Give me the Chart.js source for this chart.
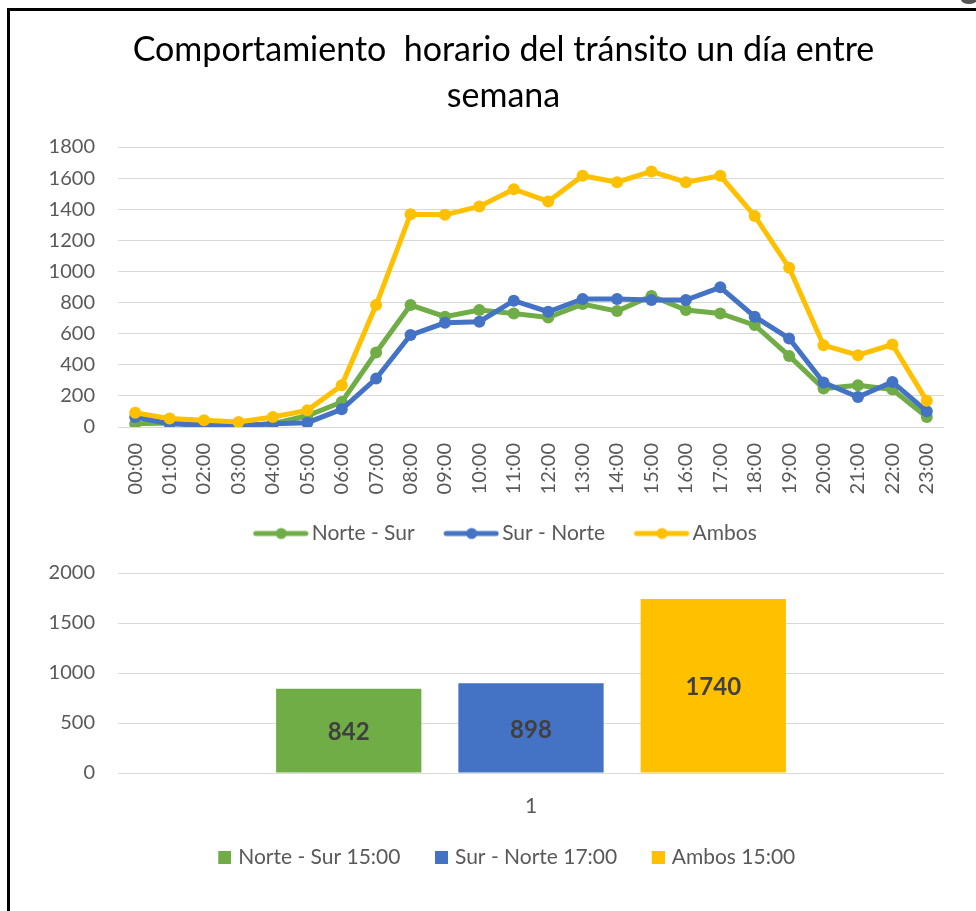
<!DOCTYPE html>
<html>
<head>
<meta charset="utf-8">
<script src="https://cdn.jsdelivr.net/npm/chart.js@4"></script>
<style>
    html, body { margin: 0; padding: 0; background: #fff; }
    body { width: 976px; height: 911px; position: relative; overflow: hidden; }
    #frame {
        position: absolute; left: 7px; top: 8px; right: -20px; bottom: -20px;
        border-left: 3px solid #000; border-top: 3px solid #000;
    }
    #handle {
        position: absolute; left: 961px; top: -5px; width: 16px; height: 9px;
        border-radius: 50%; background: #555;
    }
    #line-chart { position: absolute; left: 0; top: 0; }
    #peak-chart { position: absolute; left: 0; top: 560px; }
</style>
</head>
<body>
<div id="frame"></div>
<div id="handle"></div>
<canvas id="line-chart" width="976" height="560"></canvas>
<canvas id="peak-chart" width="976" height="351"></canvas>
<script>
// start: data
const hours = [
    '00:00', '01:00', '02:00', '03:00', '04:00', '05:00', '06:00', '07:00',
    '08:00', '09:00', '10:00', '11:00', '12:00', '13:00', '14:00', '15:00',
    '16:00', '17:00', '18:00', '19:00', '20:00', '21:00', '22:00', '23:00',
];
const norteSur = [21, 25, 15, 10, 21, 72, 161, 479, 784, 709, 752, 730, 704, 790, 745, 842, 752, 730, 655, 457, 247, 268, 241, 64];
const surNorte = [64, 21, 11, 6, 21, 28, 114, 311, 591, 670, 677, 812, 741, 823, 823, 816, 816, 898, 709, 569, 286, 193, 290, 101];
const ambos = [92, 54, 43, 32, 64, 107, 268, 784, 1368, 1364, 1418, 1529, 1450, 1615, 1574, 1643, 1574, 1615, 1357, 1024, 526, 462, 530, 168];
const seriesNames = ['Norte - Sur', 'Sur - Norte', 'Ambos'];

const peakLabels = ['Norte - Sur 15:00', 'Sur - Norte 17:00', 'Ambos 15:00'];
const peakValues = [842, 898, 1740];
// end: data

const green = '#70AD47';
const blue = '#4472C4';
const yellow = '#FFC000';
const gridColor = '#D9D9D9';
const textColor = '#595959';

Chart.defaults.font.family = 'Lato';
Chart.defaults.color = textColor;
Chart.defaults.animation = false;

const plainNumber = (value) => String(value);

// legend marker: line with a dot, drawn at the right of a wider image
function lineMarker(color) {
    const c = document.createElement('canvas');
    c.width = 66;
    c.height = 14;
    const g = c.getContext('2d');
    g.strokeStyle = color;
    g.lineWidth = 5;
    g.lineCap = 'round';
    g.beginPath();
    g.moveTo(13, 7);
    g.lineTo(63, 7);
    g.stroke();
    g.fillStyle = color;
    g.beginPath();
    g.arc(38.5, 7, 5.5, 0, Math.PI * 2);
    g.fill();
    return c;
}

// legend marker: small square, pushed to the right
function squareMarker(color) {
    const c = document.createElement('canvas');
    c.width = 23;
    c.height = 13;
    const g = c.getContext('2d');
    g.fillStyle = color;
    g.fillRect(10, 0, 13, 13);
    return c;
}

// empty axis on the right, only to keep the plot narrower than title/legend
function spacerAxis(width) {
    return {
        position: 'right',
        display: true,
        min: 0,
        max: 1,
        ticks: { display: false },
        grid: { display: false },
        border: { display: false },
        afterFit(scale) { scale.width = width; }
    };
}

function lineSeries(label, data, color, order) {
    return {
        label: label,
        data: data,
        borderColor: color,
        backgroundColor: color,
        borderWidth: 5,
        pointRadius: 6,
        pointBorderWidth: 0,
        pointBackgroundColor: color,
        tension: 0,
        order: order,
    };
}

const lineColors = [green, blue, yellow];

const lineChart = new Chart(document.getElementById('line-chart'), {
    type: 'line',
    data: {
        labels: hours,
        datasets: [
            lineSeries(seriesNames[0], norteSur, green, 3),
            lineSeries(seriesNames[1], surNorte, blue, 2),
            lineSeries(seriesNames[2], ambos, yellow, 1),
        ]
    },
    options: {
        responsive: false,
        layout: { padding: { left: 10, right: -21, top: 0, bottom: 6 } },
        plugins: {
            title: {
                display: true,
                text: ['Comportamiento  horario del tránsito un día entre', 'semana'],
                color: '#000',
                font: { size: 34, weight: 'normal', lineHeight: 1.353 },
                padding: { top: 27, bottom: 28 },
            },
            legend: {
                position: 'bottom',
                labels: {
                    usePointStyle: true,
                    pointStyleWidth: 51,
                    padding: 26,
                    color: textColor,
                    font: { size: 21 },
                    sort: (a, b) => a.datasetIndex - b.datasetIndex,
                    generateLabels(chart) {
                        const items = Chart.defaults.plugins.legend.labels.generateLabels(chart);
                        items.forEach(it => { it.pointStyle = lineMarker(lineColors[it.datasetIndex]); });
                        return items;
                    }
                }
            },
            tooltip: { enabled: false }
        },
        scales: {
            x: {
                offset: true,
                grid: { display: false, drawTicks: false },
                border: { display: false },
                ticks: { minRotation: 90, maxRotation: 90, padding: 16, font: { size: 20 }, color: textColor },
                afterFit(scale) { scale.height = 70; }
            },
            y: {
                min: 0,
                max: 1800,
                ticks: { stepSize: 200, padding: 23, font: { size: 20 }, color: textColor, callback: plainNumber },
                grid: { color: gridColor, lineWidth: 1, drawTicks: false },
                border: { display: false },
                afterFit(scale) { scale.width = 108; }
            },
            spacer: spacerAxis(53)
        }
    }
});

// value labels in the middle of each bar
const barValueLabels = {
    id: 'barValueLabels',
    afterDatasetsDraw(chart) {
        const ctx = chart.ctx;
        ctx.save();
        ctx.font = 'bold 24px Lato';
        ctx.fillStyle = '#404040';
        ctx.textAlign = 'center';
        ctx.textBaseline = 'middle';
        chart.data.datasets.forEach((ds, i) => {
            chart.getDatasetMeta(i).data.forEach((bar, j) => {
                ctx.fillText(ds.data[j], bar.x, (bar.y + bar.base) / 2 + 2);
            });
        });
        ctx.restore();
    }
};

const barColors = [green, blue, yellow];

const peakChart = new Chart(document.getElementById('peak-chart'), {
    type: 'bar',
    data: {
        labels: ['1'],
        datasets: peakLabels.map((label, i) => ({
            label: label,
            data: [peakValues[i]],
            backgroundColor: barColors[i],
            borderWidth: 0,
            categoryPercentage: 0.662,
            barPercentage: 0.797,
        }))
    },
    plugins: [barValueLabels],
    options: {
        responsive: false,
        layout: { padding: { left: 10, right: -21, top: 13, bottom: 33 } },
        plugins: {
            legend: {
                position: 'bottom',
                labels: {
                    usePointStyle: true,
                    pointStyleWidth: 16,
                    padding: 28,
                    color: textColor,
                    font: { size: 21 },
                    generateLabels(chart) {
                        const items = Chart.defaults.plugins.legend.labels.generateLabels(chart);
                        items.forEach(it => { it.pointStyle = squareMarker(barColors[it.datasetIndex]); });
                        return items;
                    }
                }
            },
            tooltip: { enabled: false }
        },
        scales: {
            x: {
                grid: { display: false, drawTicks: false },
                border: { display: false },
                ticks: { padding: 21, font: { size: 21 }, color: textColor },
                afterFit(scale) { scale.height = 46; }
            },
            y: {
                min: 0,
                max: 2000,
                ticks: { stepSize: 500, padding: 23, font: { size: 20 }, color: textColor, callback: plainNumber },
                grid: { color: gridColor, lineWidth: 1, drawTicks: false },
                border: { display: false },
                afterFit(scale) {
                    scale.width = 108;
                    scale.paddingTop = 0;
                }
            },
            spacer: spacerAxis(53)
        }
    }
});
</script>
</body>
</html>
